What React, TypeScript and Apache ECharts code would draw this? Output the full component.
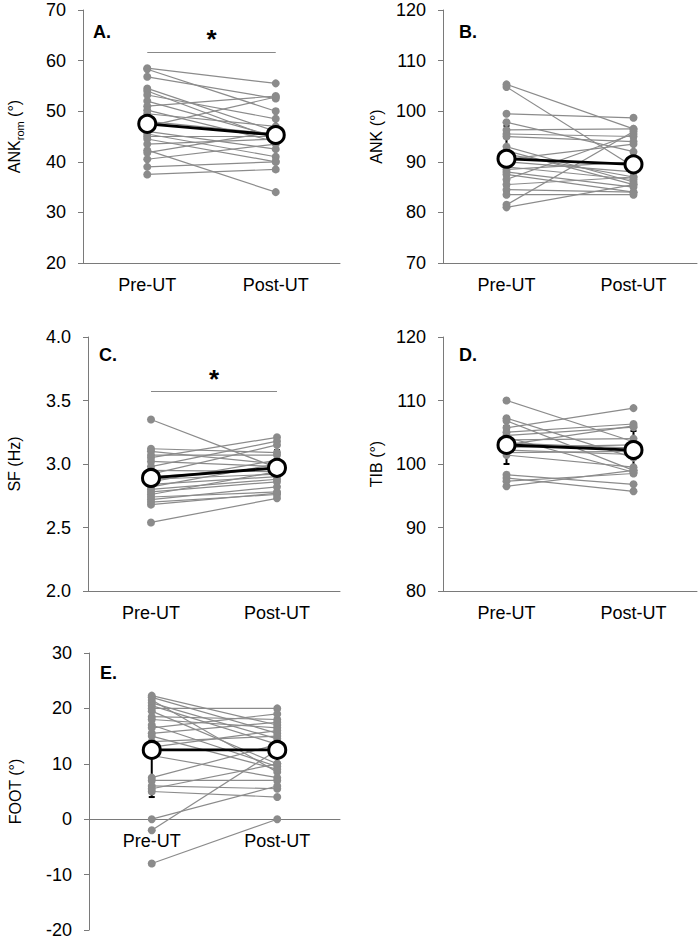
import React, { useEffect, useRef } from 'react';
import * as echarts from 'echarts';

const categories = ['Pre-UT', 'Post-UT'];

// Panel A – ANKrom (°)
const ankRomPre = [58.5, 58.3, 56.8, 54.5, 54.0, 53.2, 52.0, 51.0, 50.2, 49.5, 48.0, 47.0, 46.0, 45.5, 45.0, 44.5, 43.5, 42.3, 41.8, 40.5, 39.0, 37.5];
const ankRomPost = [55.5, 50.0, 52.5, 46.0, 44.5, 48.5, 45.0, 53.0, 44.0, 47.0, 45.5, 52.8, 42.5, 41.0, 45.0, 40.0, 44.5, 34.0, 46.0, 43.5, 40.0, 38.5];
const ankRomMean = [47.5, 45.3];
const ankRomSd = [5.5, 5.0];

// Panel B – ANK (°)
const ankPre = [105.3, 104.8, 99.5, 97.8, 96.3, 95.5, 95.0, 93.0, 92.2, 91.5, 90.5, 90.0, 89.0, 88.5, 88.0, 87.5, 86.5, 85.5, 84.5, 83.5, 81.5, 81.0];
const ankPost = [96.5, 89.0, 98.7, 92.0, 96.5, 95.0, 94.0, 86.0, 85.5, 87.0, 93.5, 88.0, 86.5, 90.0, 85.0, 84.0, 95.5, 87.0, 84.0, 83.5, 96.0, 85.5];
const ankMean = [90.6, 89.5];
const ankSd = [6.5, 4.5];

// Panel C – SF (Hz)
const sfPre = [3.35, 3.12, 3.10, 3.07, 3.05, 3.02, 2.98, 2.95, 2.92, 2.90, 2.88, 2.86, 2.84, 2.82, 2.80, 2.78, 2.76, 2.74, 2.72, 2.70, 2.68, 2.54];
const sfPost = [2.97, 3.09, 3.00, 3.07, 3.21, 2.98, 3.18, 2.94, 3.15, 2.96, 2.92, 3.03, 2.90, 3.00, 2.88, 2.86, 2.94, 2.78, 2.82, 2.76, 2.77, 2.73];
const sfMean = [2.89, 2.97];
const sfSd = [0.17, 0.14];

// Panel D – TIB (°)
const tibPre = [110.0, 107.2, 106.8, 105.7, 105.0, 104.5, 104.2, 103.8, 103.3, 103.0, 102.6, 102.2, 101.8, 101.4, 98.3, 97.8, 97.3, 96.5];
const tibPost = [103.5, 101.0, 99.0, 108.8, 106.3, 105.8, 98.7, 104.0, 102.5, 106.0, 103.0, 101.5, 102.0, 99.5, 96.8, 95.7, 98.5, 99.0];
const tibMean = [103.0, 102.2];
const tibSd = [3.0, 3.0];

// Panel E – FOOT (°)
const footPre = [22.3, 22.0, 21.5, 21.0, 20.5, 20.0, 19.5, 18.5, 18.0, 17.0, 16.5, 15.5, 15.0, 14.0, 13.0, 11.5, 7.5, 7.0, 6.0, 5.5, 5.0, 0.0, -2.0, -8.0];
const footPost = [17.0, 15.5, 8.5, 14.5, 13.5, 20.0, 10.0, 18.0, 16.5, 9.5, 19.0, 17.5, 9.0, 15.0, 16.0, 7.5, 13.5, 7.0, 5.5, 10.0, 4.0, 6.0, 12.5, 0.0];
const footMean = [12.5, 12.5];
const footSd = [8.5, 5.3];

// Y-axis settings
const yMins = [20, 70, 2.0, 80, -20];
const yMaxs = [70, 120, 4.0, 120, 30];
const yIntervals = [10, 10, 0.5, 10, 10];
const yNames = ['{n|ANK}{s|rom}{n| (°)}', '{n|ANK (°)}', '{n|SF (Hz)}', '{n|TIB (°)}', '{n|FOOT (°)}'];
const panelLetters = ['A.', 'B.', 'C.', 'D.', 'E.'];
// significance bar value (null = none)
const sigLevels: (number | null)[] = [61.7, null, 3.57, null, null];

const FONT = '"Liberation Sans", Arial, Helvetica, sans-serif';
const GREY = '#8b8b8b';
const AXIS = '#7a7a7a';

const panels = [
  { pre: ankRomPre, post: ankRomPost, mean: ankRomMean, sd: ankRomSd, grid: { left: 83, top: 10, width: 257, height: 253 }, letter: [93, 32], dec: 0, nameGap: 58 },
  { pre: ankPre, post: ankPost, mean: ankMean, sd: ankSd, grid: { left: 443, top: 10, width: 254, height: 253 }, letter: [459, 32], dec: 0, nameGap: 56 },
  { pre: sfPre, post: sfPost, mean: sfMean, sd: sfSd, grid: { left: 88, top: 337, width: 252, height: 254 }, letter: [99, 355], dec: 1, nameGap: 63 },
  { pre: tibPre, post: tibPost, mean: tibMean, sd: tibSd, grid: { left: 443, top: 337, width: 254, height: 254 }, letter: [459, 355], dec: 0, nameGap: 56 },
  { pre: footPre, post: footPost, mean: footMean, sd: footSd, grid: { left: 89, top: 653, width: 251, height: 277 }, letter: [100, 673], dec: 0, nameGap: 63 },
];

function buildOption() {
  const grid: any[] = [];
  const xAxis: any[] = [];
  const yAxis: any[] = [];
  const series: any[] = [];
  const graphic: any[] = [];

  panels.forEach((p, i) => {
    grid.push({ ...p.grid, containLabel: false });
    // if zero lies inside the range, lift the category axis (line + labels) to zero
    const min = yMins[i];
    const max = yMaxs[i];
    const zeroOffset = min < 0 && max > 0 ? -(p.grid.height * (0 - min)) / (max - min) : 0;
    xAxis.push({
      type: 'category',
      gridIndex: i,
      data: categories,
      boundaryGap: true,
      offset: zeroOffset,
      axisLine: { show: true, onZero: false, lineStyle: { color: AXIS, width: 1 } },
      axisTick: { show: false },
      axisLabel: { color: '#000', fontSize: 18, fontFamily: FONT, margin: 13 },
      splitLine: { show: false },
    });
    yAxis.push({
      type: 'value',
      gridIndex: i,
      min,
      max,
      interval: yIntervals[i],
      name: yNames[i],
      nameLocation: 'middle',
      nameRotate: 90,
      nameGap: p.nameGap,
      nameTextStyle: {
        rich: {
          n: { fontSize: 16, fontFamily: FONT, color: '#000', lineHeight: 22, verticalAlign: 'middle' },
          s: { fontSize: 11, fontFamily: FONT, color: '#000', lineHeight: 22, verticalAlign: 'bottom' },
        },
      },
      axisLine: { show: true, onZero: false, lineStyle: { color: AXIS, width: 1 } },
      axisTick: { show: true, length: 5, lineStyle: { color: AXIS } },
      axisLabel: {
        color: '#000',
        fontSize: 18,
        fontFamily: FONT,
        margin: 17,
        formatter: (v: number) => v.toFixed(p.dec),
      },
      splitLine: { show: false },
    });

    // error bars (behind)
    series.push({
      type: 'custom',
      xAxisIndex: i,
      yAxisIndex: i,
      z: 1,
      silent: true,
      encode: { x: 0, y: [1, 2] },
      data: p.mean.map((m, k) => [k, m - p.sd[k], m + p.sd[k]]),
      renderItem: (params: any, api: any) => {
        const x = api.value(0);
        const lo = api.coord([x, api.value(1)]);
        const hi = api.coord([x, api.value(2)]);
        const cw = 3;
        const st = { stroke: '#000', lineWidth: 2 };
        return {
          type: 'group',
          children: [
            { type: 'line', shape: { x1: lo[0], y1: lo[1], x2: hi[0], y2: hi[1] }, style: st },
            { type: 'line', shape: { x1: lo[0] - cw, y1: lo[1], x2: lo[0] + cw, y2: lo[1] }, style: st },
            { type: 'line', shape: { x1: hi[0] - cw, y1: hi[1], x2: hi[0] + cw, y2: hi[1] }, style: st },
          ],
        };
      },
    });

    // individual subjects
    p.pre.forEach((v, k) => {
      series.push({
        type: 'line',
        xAxisIndex: i,
        yAxisIndex: i,
        z: 2,
        silent: true,
        data: [v, p.post[k]],
        symbol: 'circle',
        symbolSize: 8,
        lineStyle: { color: GREY, width: 1.2 },
        itemStyle: { color: GREY },
      });
    });

    // mean
    const sig = sigLevels[i];
    series.push({
      type: 'line',
      xAxisIndex: i,
      yAxisIndex: i,
      z: 5,
      silent: true,
      data: p.mean,
      symbol: 'circle',
      symbolSize: 17,
      lineStyle: { color: '#000', width: 2.8 },
      itemStyle: { color: '#fff', borderColor: '#000', borderWidth: 3 },
      markLine: sig === null ? undefined : {
        silent: true,
        symbol: ['none', 'none'],
        lineStyle: { color: '#888', width: 1, type: 'solid' },
        label: {
          show: true,
          position: 'insideMiddleTop',
          formatter: '*',
          fontSize: 26,
          fontWeight: 'bold',
          fontFamily: FONT,
          color: '#000',
          distance: 0,
        },
        data: [[{ coord: [0, sig] }, { coord: [1, sig] }]],
      },
    });

    graphic.push({
      type: 'text',
      x: p.letter[0],
      y: p.letter[1],
      style: { text: panelLetters[i], font: `bold 18px ${FONT}`, fill: '#000', verticalAlign: 'middle' },
    });
  });

  return { animation: false, backgroundColor: '#fff', grid, xAxis, yAxis, series, graphic };
}

export default function App() {
  const ref = useRef<HTMLDivElement>(null);
  useEffect(() => {
    if (!ref.current) return;
    const chart = echarts.init(ref.current, undefined, { renderer: 'svg' });
    chart.setOption(buildOption() as any);
    return () => chart.dispose();
  }, []);
  return <div ref={ref} style={{ position: 'absolute', left: 0, top: 0, width: 699, height: 939, background: '#fff' }} />;
}
